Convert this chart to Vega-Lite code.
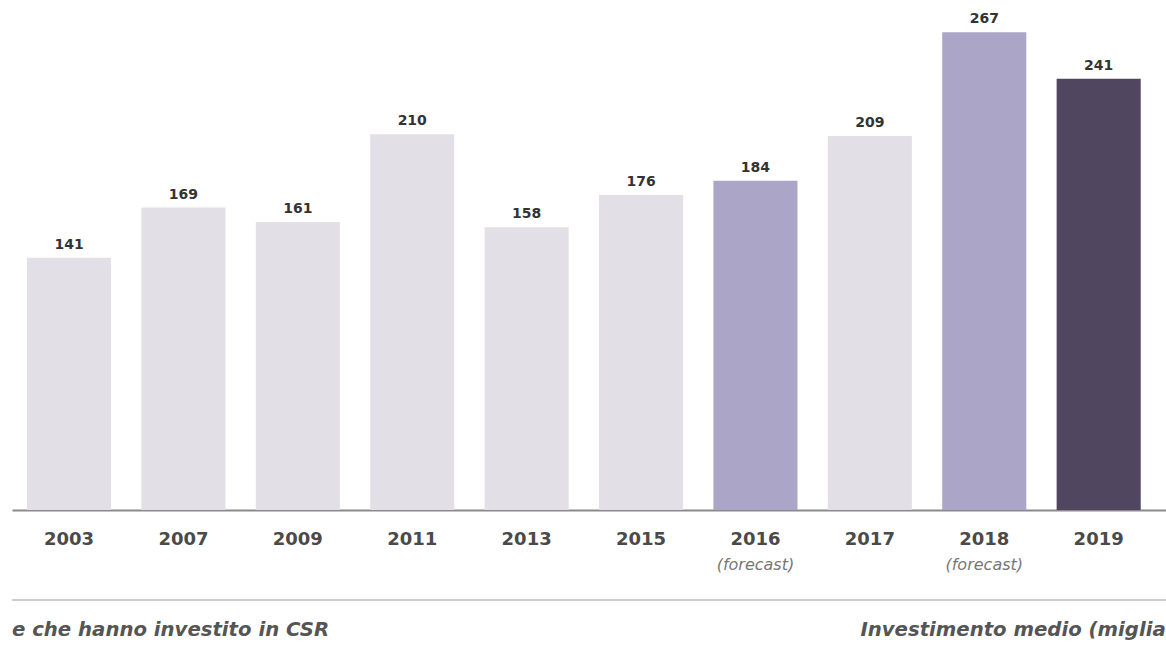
{
  "$schema": "https://vega.github.io/schema/vega-lite/v6.json",
  "width": 1154,
  "height": 510,
  "autosize": "none",
  "padding": {"left": 12, "top": 0, "right": 0, "bottom": 142},
  "background": "white",
  "config": {"view": {"stroke": null}, "font": "DejaVu Sans"},
  "data": {
    "values": [
      {"year": "2003", "value": 141, "type": "actual", "note": ""},
      {"year": "2007", "value": 169, "type": "actual", "note": ""},
      {"year": "2009", "value": 161, "type": "actual", "note": ""},
      {"year": "2011", "value": 210, "type": "actual", "note": ""},
      {"year": "2013", "value": 158, "type": "actual", "note": ""},
      {"year": "2015", "value": 176, "type": "actual", "note": ""},
      {"year": "2016", "value": 184, "type": "forecast", "note": "(forecast)"},
      {"year": "2017", "value": 209, "type": "actual", "note": ""},
      {"year": "2018", "value": 267, "type": "forecast", "note": "(forecast)"},
      {"year": "2019", "value": 241, "type": "latest", "note": ""}
    ]
  },
  "layer": [
    {
      "mark": {"type": "bar"},
      "encoding": {
        "x": {
          "field": "year", "type": "nominal", "sort": null,
          "scale": {"paddingInner": 0.265, "paddingOuter": 0.176, "align": 0.372},
          "axis": {
            "title": null, "labelAngle": 0, "ticks": false,
            "labelFont": "DejaVu Sans", "labelFontWeight": "bold", "labelFontSize": 18,
            "labelColor": "#4a4a4a", "labelPadding": 29, "labelBaseline": "middle",
            "domainColor": "#8a8a8a", "domainWidth": 2
          }
        },
        "y": {"field": "value", "type": "quantitative", "scale": {"domain": [0, 285], "nice": false}, "axis": null},
        "color": {
          "field": "type", "type": "nominal", "legend": null,
          "scale": {"domain": ["actual", "forecast", "latest"], "range": ["#e2e0e6", "#aba6c8", "#51465f"]}
        }
      }
    },
    {
      "mark": {"type": "text", "dy": -6, "fontSize": 14, "fontWeight": "bold", "color": "#333333", "baseline": "bottom"},
      "encoding": {
        "x": {"field": "year", "type": "nominal", "sort": null},
        "y": {"field": "value", "type": "quantitative"},
        "text": {"field": "value", "type": "quantitative"}
      }
    },
    {
      "transform": [{"filter": "datum.note != ''"}],
      "mark": {"type": "text", "dy": 55, "fontSize": 16, "fontStyle": "italic", "color": "#777777", "baseline": "middle"},
      "encoding": {
        "x": {"field": "year", "type": "nominal", "sort": null},
        "y": {"datum": 0, "type": "quantitative"},
        "text": {"field": "note", "type": "nominal"}
      }
    },
    {
      "data": {"values": [{"k": 1}]},
      "mark": {"type": "rule", "yOffset": 90, "color": "#cccccc", "strokeWidth": 2},
      "encoding": {"y": {"datum": 0, "type": "quantitative"}}
    },
    {
      "data": {"values": [{"label": "e che hanno investito in CSR", "pos": "2003"}]},
      "mark": {"type": "text", "align": "left", "baseline": "middle", "dx": -15, "dy": 120, "fontSize": 19.7, "fontWeight": "bold", "fontStyle": "italic", "color": "#555555"},
      "encoding": {
        "x": {"field": "pos", "type": "nominal", "bandPosition": 0},
        "y": {"datum": 0, "type": "quantitative"},
        "text": {"field": "label"}
      }
    },
    {
      "data": {"values": [{"label": "Investimento medio (miglia", "pos": "2019"}]},
      "mark": {"type": "text", "align": "right", "baseline": "middle", "dx": 25, "dy": 120, "fontSize": 19.7, "fontWeight": "bold", "fontStyle": "italic", "color": "#555555"},
      "encoding": {
        "x": {"field": "pos", "type": "nominal", "bandPosition": 1},
        "y": {"datum": 0, "type": "quantitative"},
        "text": {"field": "label"}
      }
    }
  ]
}
